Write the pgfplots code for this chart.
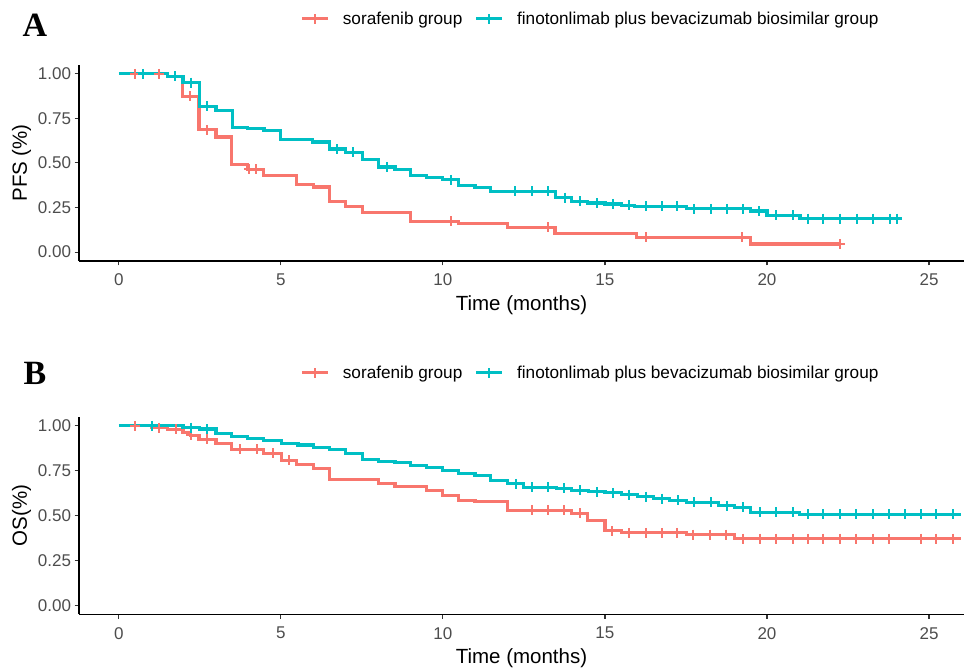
\documentclass[border=0pt]{standalone}
\usepackage{pgfplots}
\pgfplotsset{compat=1.18}
\usepackage{fontspec}
\setmainfont{Liberation Sans}
\newfontfamily\panelfont{Liberation Serif}

\definecolor{sora}{HTML}{F8766D}
\definecolor{fino}{HTML}{00BFC4}
\definecolor{tickgray}{HTML}{4D4D4D}

\pgfplotsset{
  km/.style={
    scale only axis, width=885pt,
    xmin=-1.23, xmax=26.08, ymin=-0.05, ymax=1.05,
    axis lines=left, axis line style={-, line width=1.1pt, black},
    xtick={0,5,...,25}, ytick={0,0.25,0.5,0.75,1},
    yticklabel style={/pgf/number format/.cd, fixed, fixed zerofill, precision=2},
    xticklabel style={yshift=-5pt},
    /pgf/number format/assume math mode=true,
    tick align=outside, major tick length=4.5pt,
    tick style={line width=1.1pt, black!80},
    ticklabel style={font=\fontsize{17}{20}\selectfont, text=tickgray},
    label style={font=\fontsize{20.5}{24}\selectfont},
    xlabel={Time (months)},
    xlabel style={yshift=-3pt},
    legend image code/.code={
      \draw[#1] (0pt,0pt) -- (26pt,0pt);
      \draw[#1, line width=2pt] (13pt,-5pt) -- (13pt,5pt);
    },
    legend style={draw=none, fill=none, legend columns=2,
      font=\fontsize{17.2}{20}\selectfont, anchor=west,
      /tikz/every odd column/.append style={column sep=11.5pt},
      /tikz/every even column/.append style={column sep=10pt}},
  },
  step/.style={const plot, line width=3.2pt, forget plot},
  cens/.style={only marks, mark=+, mark size=5pt, mark options={line width=2pt}, forget plot},
}

\begin{document}
\begin{tikzpicture}
\path[use as bounding box] (0,0) rectangle (964pt,669pt);

\node[font=\panelfont\bfseries\fontsize{34}{40}\selectfont] at (35pt,644pt) {A};
\node[font=\panelfont\bfseries\fontsize{34}{40}\selectfont] at (35pt,296pt) {B};

% ---- A: PFS ----
\begin{axis}[km, height=196.1pt, at={(79pt,408pt)}, anchor=south west,
  ylabel={PFS (\%)}, legend style={at={(0.2463,1.2346)}}]
  \addplot[step, sora] coordinates {
    (0,1.000) (1.5,0.985) (1.97,0.873) (2.47,0.686) (3.0,0.645) (3.48,0.490)
    (3.97,0.465) (4.46,0.428) (5.48,0.377) (6.0,0.365) (6.49,0.284) (7.0,0.256)
    (7.51,0.222) (9.0,0.172) (10.47,0.159) (11.99,0.140) (13.46,0.105)
    (15.98,0.082) (19.48,0.045) (22.25,0.045)};
  \addplot[cens, sora] coordinates {
    (0.49,1.0) (1.24,1.0) (2.21,0.873) (2.73,0.686) (4.02,0.465) (4.24,0.465)
    (10.25,0.172) (13.25,0.140) (16.26,0.082) (19.22,0.082) (22.25,0.045)};
  \addplot[step, fino] coordinates {
    (0,1.000) (1.5,0.987) (1.98,0.951) (2.5,0.817) (3.0,0.794) (3.5,0.701)
    (3.97,0.692) (4.48,0.684) (5.0,0.630) (5.98,0.617) (6.49,0.578) (7.0,0.559)
    (7.51,0.518) (8.0,0.477) (8.52,0.462) (9.0,0.428) (9.5,0.417) (9.99,0.405)
    (10.47,0.372) (10.99,0.362) (11.48,0.340) (13.47,0.306) (13.96,0.284)
    (14.47,0.275) (15.0,0.270) (15.5,0.263) (15.9,0.256) (17.52,0.243)
    (19.5,0.230) (20.0,0.207) (21.02,0.188) (24.16,0.188)};
  \addplot[cens, fino] coordinates {
    (0.75,1.0) (1.73,0.987) (2.24,0.951) (2.73,0.817) (6.74,0.578) (7.23,0.559)
    (8.26,0.477) (10.25,0.405) (12.22,0.340) (12.74,0.340) (13.25,0.340)
    (13.76,0.306) (14.23,0.284) (14.74,0.275) (15.25,0.270) (15.75,0.263)
    (16.26,0.256) (16.76,0.256) (17.23,0.256) (17.74,0.243) (18.26,0.243)
    (18.77,0.243) (19.26,0.243) (19.75,0.230) (20.27,0.207) (20.79,0.207)
    (21.26,0.188) (21.74,0.188) (22.26,0.188) (22.77,0.188) (23.28,0.188)
    (23.8,0.188) (24.0,0.188)};
  \addlegendimage{sora, line width=3.2pt}
  \addlegendentry{sorafenib group}
  \addlegendimage{fino, line width=3.2pt}
  \addlegendentry{finotonlimab plus bevacizumab biosimilar group}
\end{axis}

% ---- B: OS ----
\begin{axis}[km, height=197.3pt, at={(79pt,54.8pt)}, anchor=south west,
  ylabel={OS(\%)}, legend style={at={(0.2463,1.224)}}]
  \addplot[step, sora] coordinates {
    (0,1.000) (1.0,0.990) (1.5,0.980) (1.98,0.963) (2.22,0.948) (2.47,0.924)
    (3.0,0.902) (3.48,0.870) (4.46,0.846) (5.02,0.809) (5.48,0.785) (6.0,0.762)
    (6.49,0.701) (8.0,0.679) (8.52,0.660) (9.5,0.641) (9.99,0.610) (10.47,0.586)
    (10.99,0.577) (11.99,0.530) (13.96,0.513) (14.47,0.472) (15.0,0.415)
    (15.5,0.404) (17.52,0.393) (19.0,0.372) (26.0,0.372)};
  \addplot[cens, sora] coordinates {
    (0.49,1.0) (1.24,0.990) (1.76,0.980) (2.24,0.948) (2.73,0.924) (3.74,0.870)
    (4.25,0.870) (4.75,0.846) (5.25,0.809) (12.74,0.530) (13.25,0.530)
    (13.75,0.530) (14.23,0.513) (15.23,0.415) (15.74,0.404) (16.26,0.404)
    (16.76,0.404) (17.21,0.404) (17.72,0.393) (18.24,0.393) (18.75,0.393)
    (19.25,0.372) (19.77,0.372) (20.27,0.372) (20.79,0.372) (21.26,0.372)
    (21.74,0.372) (22.26,0.372) (22.75,0.372) (23.27,0.372) (23.78,0.372)
    (24.75,0.372) (25.23,0.372) (25.74,0.372)};
  \addplot[step, fino] coordinates {
    (0,1.000) (1.98,0.990) (2.5,0.982) (3.0,0.958) (3.48,0.939) (3.98,0.929)
    (4.46,0.920) (5.02,0.902) (5.53,0.893) (6.0,0.880) (6.49,0.867) (7.0,0.846)
    (7.51,0.814) (8.0,0.803) (8.52,0.796) (9.0,0.777) (9.5,0.766) (9.99,0.750)
    (10.47,0.735) (10.99,0.724) (11.48,0.697) (11.99,0.677) (12.48,0.658)
    (13.5,0.652) (13.96,0.641) (14.5,0.632) (15.0,0.627) (15.5,0.617)
    (16.0,0.605) (16.5,0.595) (17.0,0.586) (17.52,0.573) (18.5,0.554)
    (19.0,0.545) (19.49,0.517) (21.01,0.508) (26.0,0.508)};
  \addplot[cens, fino] coordinates {
    (1.01,1.0) (2.24,0.990) (2.73,0.982) (12.25,0.677) (12.74,0.658)
    (13.25,0.658) (13.75,0.652) (14.23,0.641) (14.74,0.632) (15.25,0.627)
    (15.75,0.617) (16.26,0.605) (16.76,0.595) (17.26,0.586) (17.75,0.573)
    (18.26,0.573) (18.77,0.554) (19.27,0.545) (19.77,0.517) (20.27,0.517)
    (20.79,0.517) (21.26,0.508) (21.74,0.508) (22.26,0.508) (22.75,0.508)
    (23.27,0.508) (23.78,0.508) (24.26,0.508) (24.75,0.508) (25.23,0.508)
    (25.74,0.508)};
  \addlegendimage{sora, line width=3.2pt}
  \addlegendentry{sorafenib group}
  \addlegendimage{fino, line width=3.2pt}
  \addlegendentry{finotonlimab plus bevacizumab biosimilar group}
\end{axis}
\end{tikzpicture}
\end{document}
